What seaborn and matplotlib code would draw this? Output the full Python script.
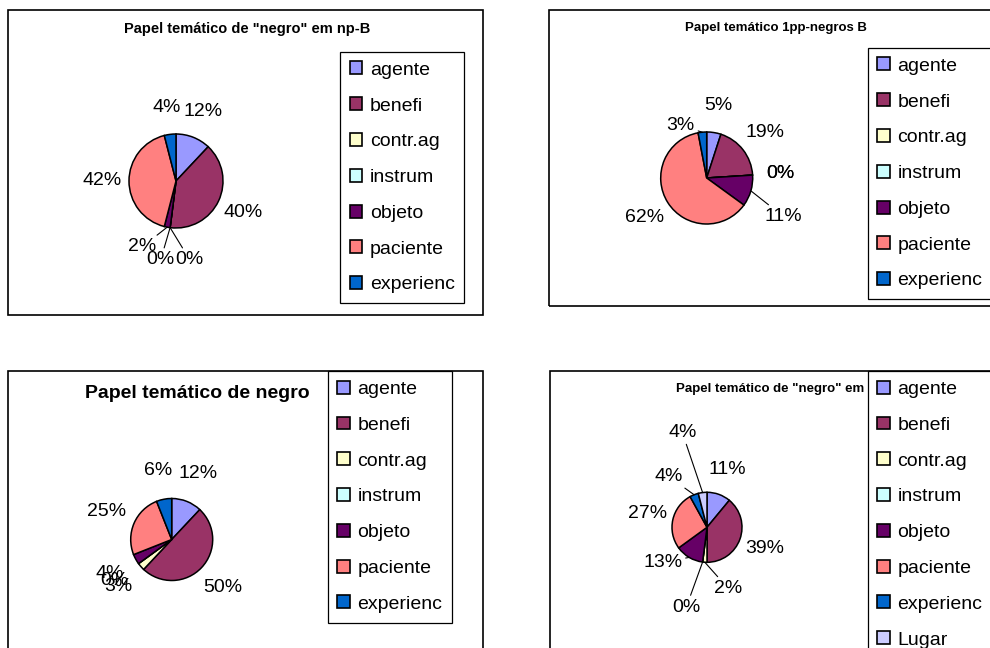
import numpy as np
import matplotlib
matplotlib.use('Agg')
import matplotlib.pyplot as plt
from matplotlib.patches import Rectangle, Patch
import seaborn as sns

# categories (legend order)
categories = ['agente', 'benefi', 'contr.ag', 'instrum', 'objeto', 'paciente', 'experienc']
categories_lugar = categories + ['Lugar']

# percentages for each chart
values_np_b = [12, 40, 0, 0, 2, 42, 4]
values_1pp = [5, 19, 0, 0, 11, 62, 3]
values_negro = [12, 50, 3, 0, 4, 25, 6]
values_np_b_lugar = [11, 39, 2, 0, 13, 27, 4, 4]

titles = ['Papel temático de "negro" em np-B',
          'Papel temático 1pp-negros B',
          'Papel temático de negro',
          'Papel temático de "negro" em']

colors = ['#9999FF', '#993366', '#FFFFCC', '#CCFFFF', '#660066', '#FF8080', '#0066CC', '#CCCCFF']

sns.set_theme(style='white')
plt.rcParams['font.family'] = ['Liberation Sans', 'DejaVu Sans']
plt.rcParams['text.color'] = 'black'
palette = sns.color_palette(colors)

W, H = 990, 648
fig = plt.figure(figsize=(W / 100, H / 100), dpi=100)
fig.patch.set_facecolor('white')


def fx(x):
    return x / W


def fy(y):
    return 1 - y / H


# layout in pixels for each panel
layout = [
    dict(panel=(8, 10, 483, 315), center=(176, 181), r=47, ld=1.58,
         title=(247, 29), tsize=10.5, tha='center',
         legend=(340, 51.7), nudge={2: (23, 5), 3: (-6, 5), 4: (-20, -7)}),
    dict(panel=(549, 10, 1000, 306), center=(706.7, 178), r=46, ld=1.6,
         title=(776, 28.5), tsize=9.5, tha='center',
         legend=(867.7, 47.7), nudge={4: (6, 18), 6: (-19, 21)}),
    dict(panel=(8, 371, 483, 700), center=(171.7, 539.5), r=41, ld=1.72,
         title=(197, 394), tsize=14, tha='center',
         legend=(327.7, 371), nudge={}),
    dict(panel=(550, 371, 1000, 700), center=(707, 527.3), r=35, ld=1.75,
         title=(864, 389.5), tsize=9.5, tha='right',
         legend=(867.7, 371), nudge={2: (25, 0), 3: (-13, 19), 4: (-13, -18), 6: (-16, 6), 7: (-17, -34)}),
]

datasets = [(values_np_b, categories), (values_1pp, categories),
            (values_negro, categories), (values_np_b_lugar, categories_lugar)]

for spec, (values, labels), title in zip(layout, datasets, titles):
    x0, y0, x1, y1 = spec['panel']
    fig.add_artist(Rectangle((fx(x0), fy(y1)), (x1 - x0) / W, (y1 - y0) / H,
                             transform=fig.transFigure, fill=False,
                             edgecolor='black', linewidth=1.2))

    cx, cy = spec['center']
    r = spec['r']
    ax = fig.add_axes([fx(cx - 2 * r), fy(cy + 2 * r), 4 * r / W, 4 * r / H])
    wedges, _ = ax.pie(values, colors=palette[:len(values)], startangle=90,
                       counterclock=False, radius=1,
                       wedgeprops=dict(edgecolor='black', linewidth=1.1))
    ax.set_xlim(-2, 2)
    ax.set_ylim(-2, 2)
    ax.axis('off')

    ld = spec['ld']
    for i, (w, v) in enumerate(zip(wedges, values)):
        mid = np.deg2rad((w.theta1 + w.theta2) / 2)
        lx, ly = ld * np.cos(mid), ld * np.sin(mid)
        if i in spec['nudge']:
            dx, dy = spec['nudge'][i]
            lx, ly = lx + dx / r, ly - dy / r
            ax.annotate(f'{v}%', xy=(np.cos(mid), np.sin(mid)), xytext=(lx, ly),
                        ha='center', va='center', fontsize=14, color='black',
                        arrowprops=dict(arrowstyle='-', color='black', lw=0.8,
                                        shrinkA=0, shrinkB=0))
        else:
            ax.text(lx, ly, f'{v}%', ha='center', va='center', fontsize=14,
                    color='black')

    tx, ty = spec['title']
    fig.text(fx(tx), fy(ty), title, ha=spec['tha'], va='center',
             fontsize=spec['tsize'], fontweight='bold', color='black')

    handles = [Patch(facecolor=palette[i], edgecolor='black', linewidth=1.2)
               for i in range(len(labels))]
    lx0, ly0 = spec['legend']
    leg = fig.legend(handles, labels, loc='upper left',
                     bbox_to_anchor=(fx(lx0), fy(ly0)), bbox_transform=fig.transFigure,
                     borderaxespad=0, frameon=True, fancybox=False, framealpha=1,
                     edgecolor='black', fontsize=14, handlelength=0.65,
                     handleheight=0.65, handletextpad=0.38, labelspacing=0.95,
                     borderpad=0.5)
    leg.get_frame().set_linewidth(0.9)
    for t in leg.get_texts():
        t.set_color('black')

fig.savefig('out.png', dpi=100, facecolor='white')
